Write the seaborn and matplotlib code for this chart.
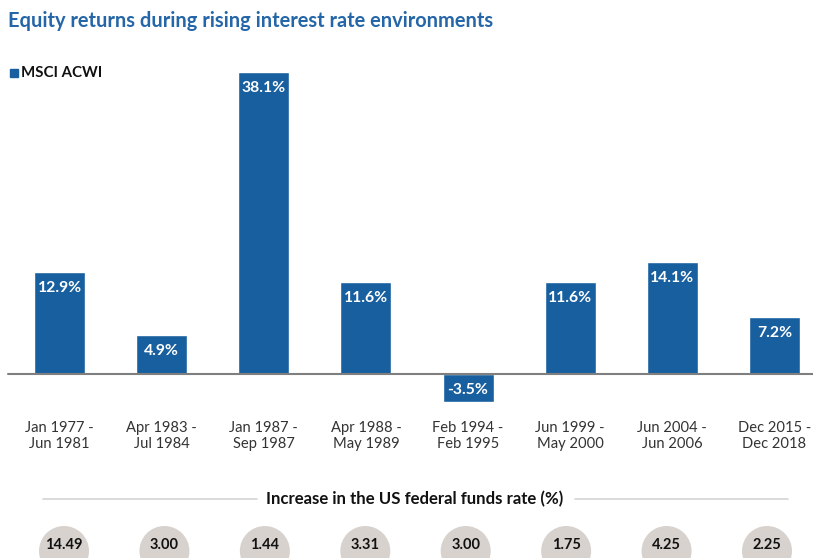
import matplotlib
matplotlib.use("Agg")
import matplotlib.pyplot as plt
import seaborn as sns
import pandas as pd
import numpy as np
from matplotlib.patches import Ellipse

# ---- data ----
periods = ["Jan 1977 -\nJun 1981", "Apr 1983 -\nJul 1984", "Jan 1987 -\nSep 1987",
           "Apr 1988 -\nMay 1989", "Feb 1994 -\nFeb 1995", "Jun 1999 -\nMay 2000",
           "Jun 2004 -\nJun 2006", "Dec 2015 -\nDec 2018"]
returns = [12.9, 4.9, 38.1, 11.6, -3.5, 11.6, 14.1, 7.2]
fed_increase = ["14.49", "3.00", "1.44", "3.31", "3.00", "1.75", "4.25", "2.25"]
series_name = "MSCI ACWI"
title = "Equity returns during rising interest rate environments"
subtitle = "Increase in the US federal funds rate (%)"

df = pd.DataFrame({"period": periods, "ret": returns})

sns.set_theme(style="white")
plt.rcParams['font.family'] = ['Lato', 'DejaVu Sans']

W, H = 813, 558
fig = plt.figure(figsize=(W / 100, H / 100), dpi=100)
fig.patch.set_facecolor("white")

BAR = "#185f9f"
TITLE_C = "#2466a7"

# main axes spanning figure; pixel geometry mapping
spacing = 102.14
c0 = 59.5
base_px = 374.0
ppu = 7.93
ax = fig.add_axes([0, 0, 1, 1])
sns.barplot(data=df, x="period", y="ret", order=periods, color=BAR,
            saturation=1, width=0.5, ax=ax, zorder=2)
ax.set_xlim(-c0 / spacing, 7 + (W - (c0 + 7 * spacing)) / spacing)
ax.set_ylim(-(H - base_px) / ppu, base_px / ppu)
ax.axis("off")

# baseline
ax.axhline(0, xmin=8 / W, xmax=1, color="#7f7f7f", lw=1.5, zorder=3)

# value labels
for i, v in enumerate(returns):
    ax.annotate(f"{v:.1f}%", xy=(i, max(v, 0)), xytext=(0, -16 * 0.72),
                textcoords="offset points", ha="center", va="center",
                color="white", fontsize=11.3, fontweight="bold", zorder=4)

# category labels
for i, p in enumerate(periods):
    ax.text(i, (base_px - 436) / ppu, p, ha="center", va="center",
            fontsize=10.6, color="#333333", linespacing=1.15)

# title & legend
fig.text(8 / W, 1 - 21 / H, title, ha="left", va="center", fontsize=14.4,
         fontweight="bold", color=TITLE_C)
fig.patches.append(plt.Rectangle((10 / W, 1 - 77 / H), 8 / W, 8 / H,
                                 transform=fig.transFigure, color=BAR))
fig.text(21 / W, 1 - 73 / H, series_name, ha="left", va="center", fontsize=10.8,
         fontweight="bold", color="#111111")

# bottom section
ax2 = fig.add_axes([0, 0, 1, 1])
ax2.patch.set_alpha(0)
sp2 = 100.43
cc0 = 64.0
ax2.set_xlim(-cc0 / sp2, 7 + (W - (cc0 + 7 * sp2)) / sp2)
ax2.set_ylim(H, 0)
ax2.axis("off")
ax2.plot([(43 - cc0) / sp2, (257 - cc0) / sp2], [498.5, 498.5], color="#d4d4d4", lw=1.2)
ax2.plot([(575 - cc0) / sp2, (788 - cc0) / sp2], [498.5, 498.5], color="#d4d4d4", lw=1.2)
ax2.text((415 - cc0) / sp2, 499, subtitle, ha="center", va="center",
         fontsize=12.1, fontweight="bold", color="#111111")
for i, s in enumerate(fed_increase):
    ax2.add_patch(Ellipse((i, 551), width=50 / sp2, height=50, color="#d7d2ce", lw=0))
    ax2.text(i, 545, s, ha="center", va="center", fontsize=10.5,
             fontweight="bold", color="#111111")

fig.savefig("out.png", dpi=100)
